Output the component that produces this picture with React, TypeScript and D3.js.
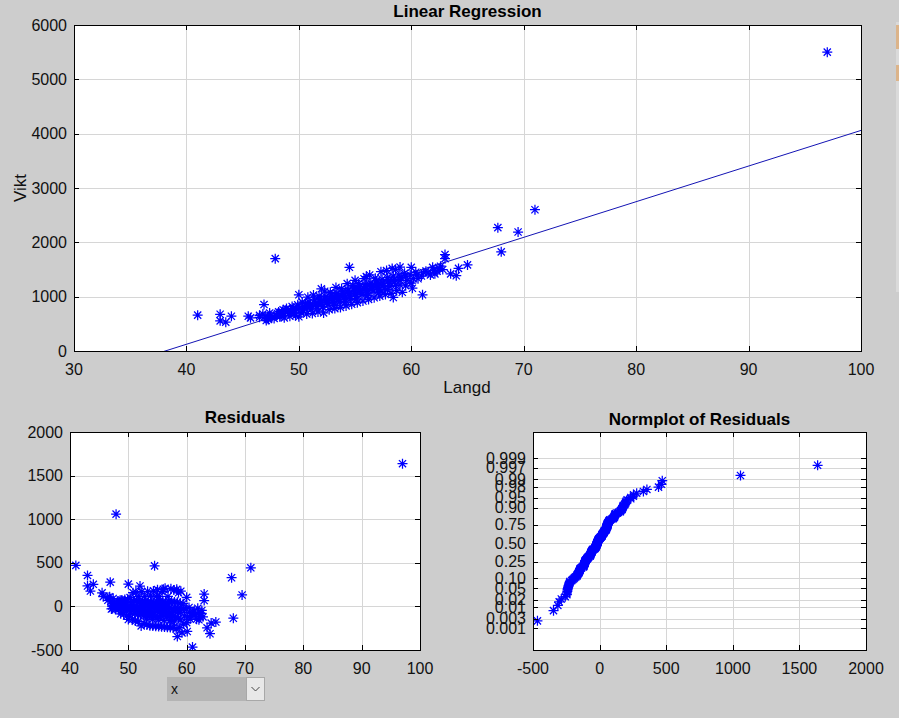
import React from "react";
import * as d3 from "d3";

// ---- Data ----
const langd: number[] = [
  41.0, 43.0, 43.0, 43.5, 44.0, 45.5, 45.7, 46.5, 46.5,
  46.9, 47.0, 47.2, 46.8, 47.1,
  47.5, 47.4, 47.6, 47.3,
  47.9, 48.0, 48.2, 47.8, 48.1, 48.3,
  48.5, 48.6, 48.4, 48.7, 48.5,
  49.0, 48.9, 49.1, 49.2, 48.8,
  49.5, 49.4, 49.6, 49.7, 49.3, 49.5,
  50.0, 50.1, 49.9, 50.2, 50.0, 49.8, 50.3,
  50.5, 50.6, 50.4, 50.7, 50.5, 50.8,
  51.0, 50.9, 51.1, 51.2, 51.0, 51.3, 50.8,
  51.5, 51.4, 51.6, 51.7, 51.5, 51.8,
  52.0, 52.0, 51.9, 52.1, 52.2, 52.0, 52.3, 51.8,
  52.5, 52.4, 52.6, 52.7, 52.5, 52.8, 52.3,
  53.0, 52.9, 53.1, 53.2, 53.0, 53.3, 52.9, 53.1,
  53.5, 53.4, 53.6, 53.7, 53.5, 53.8, 53.3,
  54.0, 53.9, 54.1, 54.2, 54.0, 54.3, 53.9, 54.1,
  54.5, 54.5, 54.4, 54.6, 54.7, 54.5, 54.8, 54.3,
  55.0, 55.0, 54.9, 55.1, 55.2, 55.0, 55.3, 54.9, 55.1,
  55.5, 55.4, 55.6, 55.7, 55.5, 55.8, 55.3,
  56.0, 56.0, 55.9, 56.1, 56.2, 56.0, 56.3, 55.9, 56.1,
  56.5, 56.4, 56.6, 56.7, 56.5, 56.8, 56.3,
  57.0, 56.9, 57.1, 57.2, 57.0, 57.3, 56.9, 57.1,
  57.5, 57.4, 57.6, 57.7, 57.5, 57.8, 57.3,
  58.0, 57.9, 58.1, 58.2, 58.0, 58.3, 57.9,
  58.6, 58.4, 58.5, 58.4, 58.6, 58.7, 58.5,
  59.0, 59.0, 59.1, 58.9, 59.2, 59.0,
  59.5, 59.6, 59.4, 59.5,
  60.0, 60.1, 59.9, 60.2, 60.0,
  60.5, 60.4, 60.6,
  61.0, 61.1, 60.9,
  61.5, 61.3, 61.7,
  62.0, 62.1, 61.9,
  62.5, 62.3, 62.6,
  63.0, 63.0, 62.8,
  63.5, 64.0, 64.2, 65.0, 67.7, 68.0, 69.5, 71.0, 97.0,
];

const vikt: number[] = [
  660, 676, 555, 530, 640, 640, 610, 620, 655,
  855, 640, 600, 680, 560,
  650, 700, 620, 580,
  1700, 660, 720, 600, 690, 630,
  700, 760, 650, 610, 720,
  730, 780, 690, 640, 750,
  760, 820, 700, 650, 730, 790,
  1035, 790, 850, 700, 630, 760, 900,
  820, 870, 740, 680, 790, 990,
  850, 900, 770, 690, 820, 1030, 800,
  870, 940, 790, 720, 840, 1010,
  1145, 900, 960, 820, 700, 860, 1100, 940,
  930, 1000, 850, 760, 890, 1080, 960,
  970, 1030, 880, 780, 920, 1170, 990, 840,
  1000, 1060, 910, 800, 950, 1150, 1030,
  1030, 1090, 940, 830, 980, 1240, 1060, 900,
  1540, 1060, 1120, 970, 860, 1010, 1210, 1090,
  1300, 1090, 1160, 1000, 890, 1050, 1240, 1120, 960,
  1120, 1190, 1040, 920, 1080, 1330, 1150,
  1370, 1150, 1220, 1070, 950, 1110, 1400, 1190, 1020,
  1190, 1250, 1100, 980, 1140, 1340, 1210,
  1220, 1290, 1130, 1010, 1170, 1460, 1250, 1080,
  1250, 1320, 1160, 1040, 1200, 1480, 1100,
  1290, 1350, 1190, 1060, 1240, 1520, 1130,
  1500, 985, 1320, 1380, 1210, 1110, 1270,
  1545, 1215, 1350, 1400, 1080, 1300,
  1380, 1300, 1430, 1200,
  1540, 1155, 1400, 1330, 1250,
  1400, 1450, 1330,
  1035, 1440, 1380,
  1440, 1470, 1400,
  1480, 1420, 1540,
  1520, 1470, 1560,
  1775, 1700, 1500,
  1420, 1385, 1520, 1585, 2270, 1825, 2190, 2600, 5500,
];

// fitted line
const INTERCEPT = -2500;
const SLOPE = 65.6;

const topXTicks = [30, 40, 50, 60, 70, 80, 90, 100];
const topYTicks = [0, 1000, 2000, 3000, 4000, 5000, 6000];
const resXTicks = [40, 50, 60, 70, 80, 90, 100];
const resYTicks = [-500, 0, 500, 1000, 1500, 2000];
const normXTicks = [-500, 0, 500, 1000, 1500, 2000];
const probTicks = [0.001, 0.003, 0.01, 0.02, 0.05, 0.1, 0.25, 0.5, 0.75, 0.9, 0.95, 0.98, 0.99, 0.997, 0.999];
const probLabels = ["0.001", "0.003", "0.01", "0.02", "0.05", "0.10", "0.25", "0.50", "0.75", "0.90", "0.95", "0.98", "0.99", "0.997", "0.999"];

// inverse normal CDF (Acklam)
function norminv(p: number): number {
  const a = [-3.969683028665376e1, 2.209460984245205e2, -2.759285104469687e2, 1.38357751867269e2, -3.066479806614716e1, 2.506628277459239];
  const b = [-5.447609879822406e1, 1.615858368580409e2, -1.556989798598866e2, 6.680131188771972e1, -1.328068155288572e1];
  const c = [-7.784894002430293e-3, -3.223964580411365e-1, -2.400758277161838, -2.549732539343734, 4.374664141464968, 2.938163982698783];
  const d = [7.784695709041462e-3, 3.224671290700398e-1, 2.445134137142996, 3.754408661907416];
  const plow = 0.02425;
  if (p < plow) {
    const q = Math.sqrt(-2 * Math.log(p));
    return (((((c[0] * q + c[1]) * q + c[2]) * q + c[3]) * q + c[4]) * q + c[5]) / ((((d[0] * q + d[1]) * q + d[2]) * q + d[3]) * q + 1);
  }
  if (p <= 1 - plow) {
    const q = p - 0.5;
    const r = q * q;
    return ((((((a[0] * r + a[1]) * r + a[2]) * r + a[3]) * r + a[4]) * r + a[5]) * q) / (((((b[0] * r + b[1]) * r + b[2]) * r + b[3]) * r + b[4]) * r + 1);
  }
  const q = Math.sqrt(-2 * Math.log(1 - p));
  return -(((((c[0] * q + c[1]) * q + c[2]) * q + c[3]) * q + c[4]) * q + c[5]) / ((((d[0] * q + d[1]) * q + d[2]) * q + d[3]) * q + 1);
}

const FONT = "'Liberation Sans', Arial, Helvetica, sans-serif";
const BLUE = "#0000ff";
const GRID = "#d6d6d6";
const STAR = "M-5,0H5M0,-5V5M-3.6,-3.6L3.6,3.6M-3.6,3.6L3.6,-3.6";

type Tick = { v: number; label: string };

function Axes(props: {
  id: string;
  x: d3.ScaleLinear<number, number>;
  y: d3.ScaleLinear<number, number>;
  xTicks: Tick[];
  yTicks: Tick[];
  title: string;
  titleY: number;
  children?: React.ReactNode;
}) {
  const { id, x, y, xTicks, yTicks, title, titleY } = props;
  const [x0, x1] = x.range();
  const [y0, y1] = y.range(); // y0 bottom, y1 top
  const tl = 5;
  return (
    <g>
      <rect x={x0} y={y1} width={x1 - x0} height={y0 - y1} fill="#ffffff" />
      <clipPath id={id}>
        <rect x={x0} y={y1} width={x1 - x0} height={y0 - y1} />
      </clipPath>
      {/* grid */}
      <g shapeRendering="crispEdges">
        {xTicks.map((t) => (
          <line key={"gx" + t.v} x1={Math.round(x(t.v)) + 0.5} x2={Math.round(x(t.v)) + 0.5} y1={y1} y2={y0} stroke={GRID} />
        ))}
        {yTicks.map((t) => (
          <line key={"gy" + t.v} y1={Math.round(y(t.v)) + 0.5} y2={Math.round(y(t.v)) + 0.5} x1={x0} x2={x1} stroke={GRID} />
        ))}
      </g>
      <g clipPath={`url(#${id})`}>{props.children}</g>
      {/* box and ticks */}
      <g shapeRendering="crispEdges" stroke="#000" strokeWidth={1}>
        <rect x={x0 + 0.5} y={y1 + 0.5} width={x1 - x0} height={y0 - y1} fill="none" />
        {xTicks.map((t) => {
          const px = Math.round(x(t.v)) + 0.5;
          return (
            <g key={"tx" + t.v}>
              <line x1={px} x2={px} y1={y0} y2={y0 - tl} />
              <line x1={px} x2={px} y1={y1} y2={y1 + tl} />
            </g>
          );
        })}
        {yTicks.map((t) => {
          const py = Math.round(y(t.v)) + 0.5;
          return (
            <g key={"ty" + t.v}>
              <line y1={py} y2={py} x1={x0} x2={x0 + tl} />
              <line y1={py} y2={py} x1={x1} x2={x1 - tl} />
            </g>
          );
        })}
      </g>
      <g fontFamily={FONT} fontSize={16} fill="#111">
        {xTicks.map((t) => (
          <text key={"lx" + t.v} x={x(t.v)} y={y0 + 24} textAnchor="middle">
            {t.label}
          </text>
        ))}
        {yTicks.map((t) => (
          <text key={"ly" + t.v} x={x0 - 7} y={y(t.v)} dy="0.35em" textAnchor="end">
            {t.label}
          </text>
        ))}
      </g>
      <text x={(x0 + x1) / 2} y={titleY} textAnchor="middle" fontFamily={FONT} fontWeight="bold" fontSize={17} fill="#000">
        {title}
      </text>
    </g>
  );
}

const Star = ({ cx, cy }: { cx: number; cy: number }) => (
  <path d={STAR} transform={`translate(${cx},${cy})`} stroke={BLUE} strokeWidth={1.25} fill="none" />
);

export default function App() {
  // top: Linear Regression
  const xTop = d3.scaleLinear().domain([30, 100]).range([74, 861]);
  const yTop = d3.scaleLinear().domain([0, 6000]).range([351, 25]);
  const fit = (l: number) => INTERCEPT + SLOPE * l;
  const linePath = d3
    .line<number>()
    .x((l) => xTop(l))
    .y((l) => yTop(fit(l)))([30, 100]);

  const residuals = langd.map((l, i) => vikt[i] - fit(l));

  // residuals
  const xRes = d3.scaleLinear().domain([40, 100]).range([70, 420]);
  const yRes = d3.scaleLinear().domain([-500, 2000]).range([650, 432]);

  // normplot
  const xNorm = d3.scaleLinear().domain([-500, 2000]).range([533, 866]);
  const yNorm = d3.scaleLinear().domain([-3.89, 4.04]).range([650, 432]);
  const sorted = residuals.slice().sort((a, b) => a - b);
  const n = sorted.length;
  const normPts = sorted.map((r, i) => ({ r, z: norminv((i + 0.5) / n) }));

  const tk = (arr: number[]): Tick[] => arr.map((v) => ({ v, label: String(v) }));

  return (
    <svg
      width={899}
      height={718}
      style={{ position: "fixed", left: 0, top: 0, background: "#cdcdcd" }}
    >
      <rect x={0} y={0} width={899} height={718} fill="#cdcdcd" />
      {/* right-edge UI strip */}
      <rect x={896} y={22} width={3} height={270} fill="#dadada" />
      <rect x={896} y={25} width={3} height={24} fill="#dcb48a" />
      <rect x={896} y={65} width={3} height={16} fill="#dcb48a" />

      <Axes id="clipTop" x={xTop} y={yTop} xTicks={tk(topXTicks)} yTicks={tk(topYTicks)} title="Linear Regression" titleY={17}>
        <path d={linePath || ""} stroke="#1414b4" strokeWidth={1} fill="none" />
        {langd.map((l, i) => (
          <Star key={i} cx={xTop(l)} cy={yTop(vikt[i])} />
        ))}
      </Axes>
      <text x={467} y={393} textAnchor="middle" fontFamily={FONT} fontSize={17} fill="#111">
        Langd
      </text>
      <text transform="translate(26,188) rotate(-90)" textAnchor="middle" fontFamily={FONT} fontSize={17} fill="#111">
        Vikt
      </text>

      <Axes id="clipRes" x={xRes} y={yRes} xTicks={tk(resXTicks)} yTicks={tk(resYTicks)} title="Residuals" titleY={423}>
        {langd.map((l, i) => (
          <Star key={i} cx={xRes(l)} cy={yRes(residuals[i])} />
        ))}
      </Axes>

      <Axes
        id="clipNorm"
        x={xNorm}
        y={yNorm}
        xTicks={tk(normXTicks)}
        yTicks={probTicks.map((p, i) => ({ v: norminv(p), label: probLabels[i] }))}
        title="Normplot of Residuals"
        titleY={425}
      >
        {normPts.map((d, i) => (
          <Star key={i} cx={xNorm(d.r)} cy={yNorm(d.z)} />
        ))}
      </Axes>

      {/* dropdown widget */}
      <g>
        <rect x={167} y={677} width={79} height={24} fill="#b4b4b4" />
        <rect x={246.5} y={677.5} width={18} height={23} fill="#e8e8e8" stroke="#a8a8a8" />
        <path d="M251.5,687 L255.5,691 L259.5,687" stroke="#444" fill="none" strokeWidth={1} />
        <text x={171} y={694} fontFamily={FONT} fontSize={14} fill="#111">
          x
        </text>
      </g>
    </svg>
  );
}
